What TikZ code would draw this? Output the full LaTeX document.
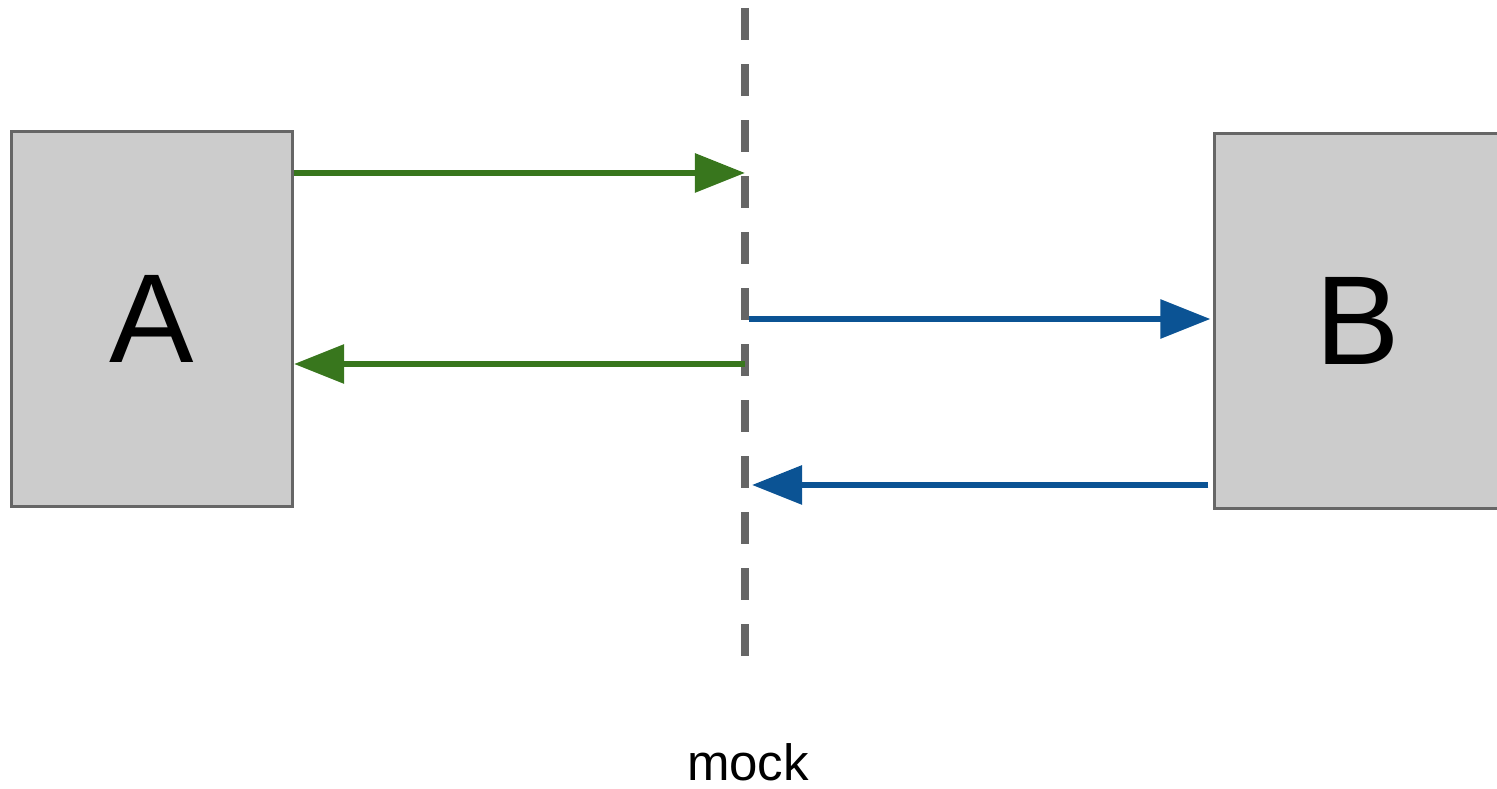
\documentclass[tikz,border=0pt]{standalone}
\usepackage{fontspec}
\setmainfont{Liberation Sans}
\usetikzlibrary{arrows.meta}
\definecolor{mockgrey}{HTML}{666666}
\definecolor{boxfill}{HTML}{CCCCCC}
\definecolor{callgreen}{HTML}{38761D}
\definecolor{callblue}{HTML}{0B5394}

\begin{document}
\begin{tikzpicture}[x=0.01cm, y=-0.01cm,
        box/.style={draw=mockgrey, fill=boxfill, line width=0.03cm, minimum width=2.81cm, minimum height=3.75cm, inner sep=0pt, font=\fontsize{36}{40}\selectfont},
        greencall/.style={draw=callgreen, line width=0.06cm, -{Triangle[length=0.5cm, width=0.38cm]}},
        bluecall/.style={draw=callblue, line width=0.06cm, -{Triangle[length=0.5cm, width=0.38cm]}}]
        \useasboundingbox (0,0) rectangle (1497,789);
        \begin{scope}
            \node [box] (A) at (152, 319) {A};
            \node [box, minimum width=2.86cm] (B) at (1358, 321) {B};

            % the mock in the middle
            \coordinate (Mtop) at (745, 8);
            \coordinate (Mbot) at (745, 656);
            \draw [mockgrey, line width=0.08cm, dash pattern=on 0.32cm off 0.24cm] (Mtop) -- (Mbot);
            \node [anchor=base, font=\fontsize{14.5}{17}\selectfont] (mock) at (748, 781) {mock};

            \coordinate (M1) at (745, 173);
            \coordinate (M2) at (745, 364);
            \coordinate (M3) at (749, 319);
            \coordinate (M4) at (752, 485);

            \draw [greencall] (A.east |- M1) -- (M1);
            \draw [greencall] (M2) -- (A.east |- M2);
            \draw [bluecall] (M3) -- ([xshift=-0.03cm]B.west |- M3);
            \draw [bluecall] ([xshift=-0.05cm]B.west |- M4) -- (M4);
        \end{scope}
    \end{tikzpicture}
\end{document}
